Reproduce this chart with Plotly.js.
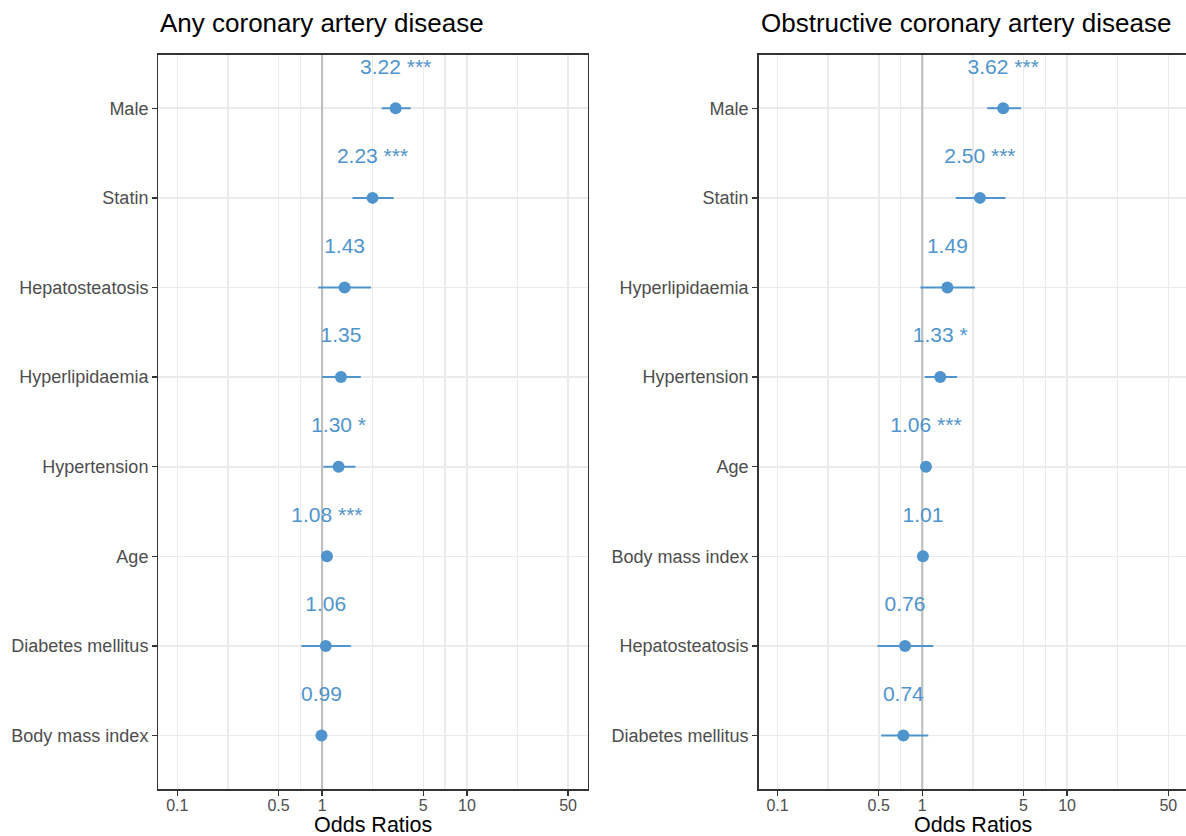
<!DOCTYPE html>
<html>
<head>
<meta charset="utf-8">
<script src="https://cdn.plot.ly/plotly-3.0.1.min.js"></script>
<style>html,body{margin:0;padding:0;background:#fff;}#chart{width:1186px;height:836px;}</style>
</head>
<body>
<div id="chart"></div>
<script>
// ---- data (top to bottom order as shown) ----
const anyCategories = ["Male", "Statin", "Hepatosteatosis", "Hyperlipidaemia", "Hypertension", "Age", "Diabetes mellitus", "Body mass index"];
const anyOR    = [3.22, 2.23, 1.43, 1.35, 1.30, 1.08, 1.06, 0.99];
const anyLower = [2.58, 1.62, 0.94, 1.00, 1.02, 1.06, 0.72, 0.96];
const anyUpper = [4.09, 3.12, 2.18, 1.85, 1.70, 1.10, 1.58, 1.03];
const anyStars = ["***", "***", "", "", "*", "***", "", ""];

const obsCategories = ["Male", "Statin", "Hyperlipidaemia", "Hypertension", "Age", "Body mass index", "Hepatosteatosis", "Diabetes mellitus"];
const obsOR    = [3.62, 2.50, 1.49, 1.33, 1.06, 1.01, 0.76, 0.74];
const obsLower = [2.81, 1.70, 0.97, 1.04, 1.04, 0.98, 0.49, 0.52];
const obsUpper = [4.82, 3.75, 2.31, 1.74, 1.08, 1.04, 1.19, 1.10];
const obsStars = ["***", "***", "", "*", "***", "", "", ""];

const tickValues = [0.1, 0.5, 1, 5, 10, 50];
const tickLabels = ["0.1", "0.5", "1", "5", "10", "50"];
const minorValues = [0.2236, 0.7071, 2.236, 7.071, 22.36];

const panelTitles = ["Any coronary artery disease", "Obstructive coronary artery disease"];
const xTitle = "Odds Ratios";

// ---- styling ----
const BLUE = "#4F94CD";
const FONT = "Liberation Sans, Arial, Helvetica, sans-serif";
const GRID = "#ebebeb";

function panelTraces(cats, or, lo, hi, stars, xa, ya) {
  const n = cats.length;
  const yPos = cats.map((c, i) => n - 1 - i);
  const traces = [];
  // reference line at OR = 1
  traces.push({
    x: [1, 1], y: [-0.6, n - 0.4], mode: "lines", xaxis: xa, yaxis: ya,
    line: {color: "#bdbdbd", width: 2}, hoverinfo: "skip", showlegend: false
  });
  // points with CI
  traces.push({
    x: or, y: yPos, mode: "markers", xaxis: xa, yaxis: ya, type: "scatter",
    marker: {color: BLUE, size: 12},
    error_x: {type: "data", symmetric: false,
      array: or.map((v, i) => hi[i] - v),
      arrayminus: or.map((v, i) => v - lo[i]),
      color: BLUE, thickness: 2, width: 0},
    hoverinfo: "skip", showlegend: false
  });
  // labels
  traces.push({
    x: or, y: yPos.map(v => v + 0.446), mode: "text", xaxis: xa, yaxis: ya,
    text: or.map((v, i) => v.toFixed(2) + (stars[i] ? " " + stars[i] : "")),
    textposition: "middle center",
    textfont: {family: FONT, size: 21, color: BLUE},
    hoverinfo: "skip", showlegend: false, cliponaxis: false
  });
  return traces;
}

const data = [].concat(
  panelTraces(anyCategories, anyOR, anyLower, anyUpper, anyStars, "x", "y"),
  panelTraces(obsCategories, obsOR, obsLower, obsUpper, obsStars, "x2", "y2")
);

const W = 1186, H = 836;
const yDomain = [1 - 789.3 / H, 1 - 54.5 / H];

function xAxis(domain, range, anchor) {
  return {
    type: "log", domain: domain, range: range, anchor: anchor,
    tickmode: "array", tickvals: tickValues, ticktext: tickLabels,
    showgrid: true, gridcolor: GRID, gridwidth: 1.6,
    minor: {tickmode: "array", tickvals: minorValues, showgrid: true, gridcolor: GRID, gridwidth: 1.3, ticks: ""},
    showline: true, linecolor: "#333333", linewidth: 1.3, mirror: true,
    ticks: "outside", ticklen: 5, tickwidth: 1.3, tickcolor: "#333333",
    ticklabelstandoff: -4,
    tickfont: {family: FONT, size: 16, color: "#4d4d4d"},
    zeroline: false, fixedrange: true
  };
}
function yAxis(cats, anchor) {
  const n = cats.length;
  return {
    domain: yDomain, range: [-0.6, n - 0.4], anchor: anchor,
    tickmode: "array", tickvals: cats.map((c, i) => n - 1 - i), ticktext: cats,
    showgrid: true, gridcolor: GRID, gridwidth: 1.6,
    showline: true, linecolor: "#333333", linewidth: 1.3, mirror: true,
    ticks: "outside", ticklen: 5, tickwidth: 1.3, tickcolor: "#333333",
    tickfont: {family: FONT, size: 18, color: "#4d4d4d"},
    zeroline: false, fixedrange: true
  };
}

const decade = 144.8;
const lx0 = 158.3, lx1 = 588.0, rx0 = 758.5;
const logLeft = -1 - (177.3 - lx0) / decade;

function titleAnn(text, x, y, xanchor, size) {
  return {text: text, xref: "paper", yref: "paper", x: x, y: y,
    xanchor: xanchor, yanchor: "middle", showarrow: false,
    font: {family: FONT, size: size, color: "#000"}};
}

const layout = {
  width: W, height: H,
  margin: {l: 0, r: 0, t: 0, b: 0},
  paper_bgcolor: "#fff", plot_bgcolor: "#fff",
  showlegend: false,
  xaxis: xAxis([lx0 / W, lx1 / W], [logLeft, logLeft + (lx1 - lx0) / decade], "y"),
  yaxis: yAxis(anyCategories, "x"),
  xaxis2: xAxis([rx0 / W, 1], [logLeft, logLeft + (W - rx0) / decade], "y2"),
  yaxis2: yAxis(obsCategories, "x2"),
  annotations: [
    titleAnn(panelTitles[0], lx0 / W, 1 - 23 / H, "left", 26),
    titleAnn(panelTitles[1], rx0 / W, 1 - 23 / H, "left", 26),
    titleAnn(xTitle, (lx0 + lx1) / 2 / W, 1 - 825 / H, "center", 21.5),
    titleAnn(xTitle, (rx0 + rx0 + (lx1 - lx0)) / 2 / W, 1 - 825 / H, "center", 21.5)
  ]
};

Plotly.newPlot("chart", data, layout, {displayModeBar: false, staticPlot: true});
</script>
</body>
</html>
